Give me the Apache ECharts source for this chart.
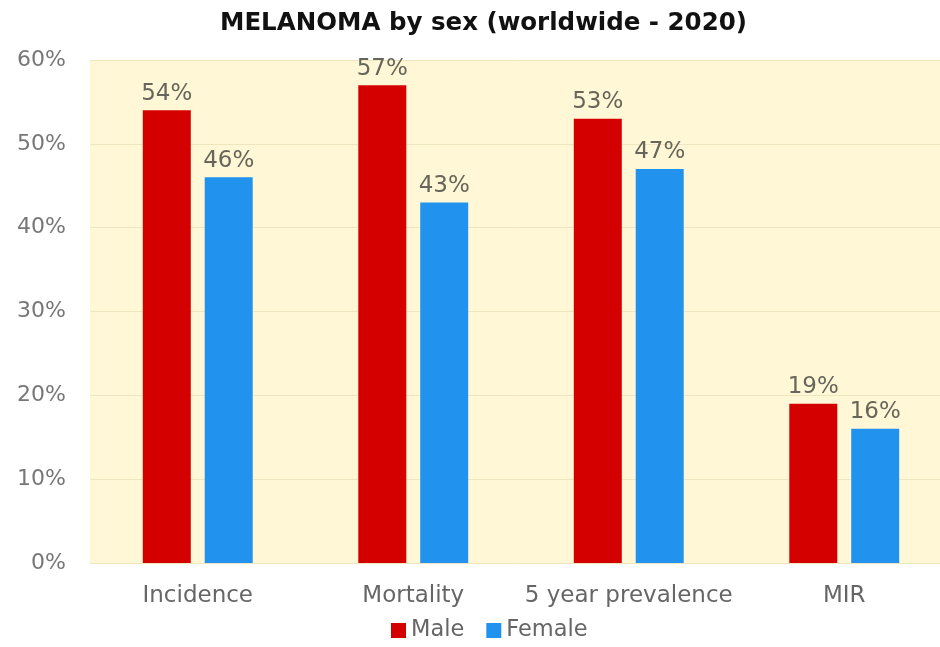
<!DOCTYPE html>
<html>
<head>
<meta charset="utf-8">
<script src="https://cdn.jsdelivr.net/npm/echarts@6/dist/echarts.min.js"></script>
<style>
	html, body { margin: 0; padding: 0; background: #fff; }
	#chart { width: 940px; height: 647px; }
</style>
</head>
<body>
<div id="chart"></div>
<script>
var categories = ['Incidence', 'Mortality', '5 year prevalence', 'MIR'];
var maleValues = [54, 57, 53, 19];
var femaleValues = [46, 43, 47, 16];
var yTicks = [0, 10, 20, 30, 40, 50, 60];

var myChart = echarts.init(document.getElementById('chart'));
var labelStyle = {
	show: true,
	position: 'top',
	distance: 5,
	formatter: '{c}%',
	color: '#66665a',
	fontSize: 23,
	fontFamily: 'DejaVu Sans'
};
var option = {
	title: {
		text: 'MELANOMA by sex (worldwide - 2020)',
		left: 215,
		top: 6,
		textStyle: { fontSize: 24.5, fontWeight: 'bold', color: '#111', fontFamily: 'DejaVu Sans' }
	},
	legend: {
		bottom: 0,
		left: 386,
		itemWidth: 15,
		itemHeight: 15,
		itemGap: 22,
		icon: 'rect',
		textStyle: { fontSize: 22.5, color: '#666', fontFamily: 'DejaVu Sans' },
		data: ['Male', 'Female']
	},
	grid: {
		left: 90,
		right: -12,
		top: 60,
		bottom: 84,
		outerBoundsMode: 'none',
		show: true,
		backgroundColor: '#fff7d6',
		borderWidth: 0
	},
	xAxis: {
		type: 'category',
		data: categories,
		axisLine: { show: false },
		axisTick: { show: false },
		axisLabel: { interval: 0, fontSize: 23, color: '#666', margin: 22, fontFamily: 'DejaVu Sans' }
	},
	yAxis: {
		type: 'value',
		min: yTicks[0],
		max: yTicks[yTicks.length - 1],
		interval: 10,
		axisLine: { show: false },
		axisTick: { show: false },
		splitLine: { lineStyle: { color: '#efe6c0', width: 1 } },
		axisLabel: { formatter: '{value}%', fontSize: 22, color: '#777', margin: 24, fontFamily: 'DejaVu Sans' }
	},
	series: [
		{
			name: 'Male',
			type: 'bar',
			data: maleValues,
			barWidth: 48,
			barGap: '29%',
			itemStyle: { color: '#d40000' },
			label: labelStyle
		},
		{
			name: 'Female',
			type: 'bar',
			data: femaleValues,
			barWidth: 48,
			itemStyle: { color: '#2193ee' },
			label: labelStyle
		}
	]
};
myChart.setOption(option);
</script>
</body>
</html>
